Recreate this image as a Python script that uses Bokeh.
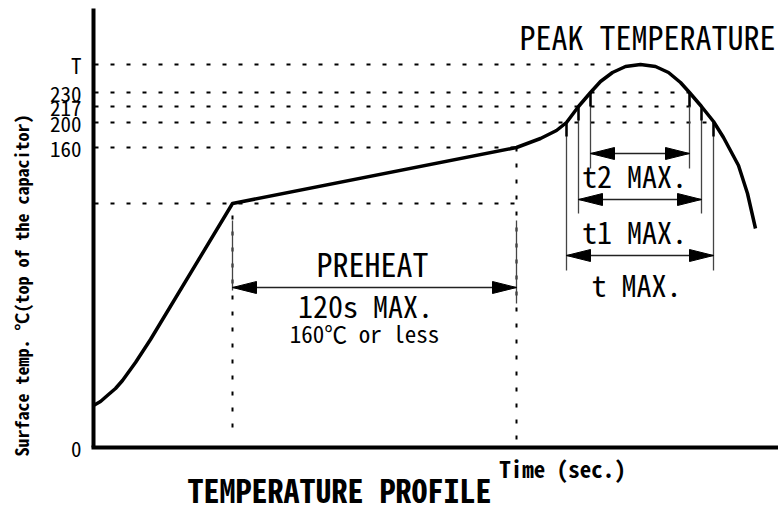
import math
from bokeh.plotting import figure
from bokeh.models import ColumnDataSource, FixedTicker
from bokeh.core.properties import value
from bokeh.embed import file_html
from bokeh.resources import INLINE

FONT = "Noto Sans Mono CJK JP"

# ---- schematic data (time units along x, temperature-scale units along y) ----
curve_t = [0, 7, 15, 22, 29, 42, 57, 139, 423, 447, 463, 473, 485, 497, 507, 519,
           532, 547, 562, 575, 587, 596, 608, 620, 630, 645, 654, 662]
curve_h = [42, 46, 53, 59, 67, 85, 108, 244, 300, 309, 317, 325, 341, 355, 366, 375,
           381, 383, 381, 375, 365, 355, 341, 326, 310, 282, 254, 219]

level_labels = ["T", "230", "217", "200", "160", "0"]
level_h = [383, 355, 341, 325, 300, 0]
guide_end_t = [527, 596, 608, 620, 423]          # guides for T, 230, 217, 200, 160
preheat_start_h = 244
preheat_t = [139, 423]
preheat_arrow_h = 160

win_names = ["t MAX.", "t1 MAX.", "t2 MAX."]
win_start = [473, 485, 497]     # crossings of 200 / 217 / 230 while heating
win_end = [620, 608, 596]       # crossings of 200 / 217 / 230 while cooling
win_level = [325, 341, 355]
win_arrow_h = [192, 248, 294]
win_ext_bottom = [177, 234, 279]

T_MAX, H_MAX = 685, 439

p = figure(width=778, height=511, x_range=(-93, T_MAX), y_range=(-64, H_MAX + 8),
           min_border=0, output_backend="svg", toolbar_location=None)
p.outline_line_color = None
p.grid.visible = False

# axes drawn at the origin of the diagram
for ax in (p.xaxis, p.yaxis):
    ax.fixed_location = 0
    ax.axis_line_width = 4
    ax.axis_line_color = "black"
    ax.major_tick_line_color = None
    ax.minor_tick_line_color = None
    ax.major_tick_out = 0
    ax.minor_tick_out = 0
    ax.major_tick_in = 0
    ax.minor_tick_in = 0
p.xaxis.bounds = (-2, T_MAX)
p.xaxis.ticker = FixedTicker(ticks=[])
p.yaxis.bounds = (0, H_MAX)
p.yaxis.ticker = FixedTicker(ticks=level_h)
p.yaxis.major_label_overrides = {h: s for h, s in zip(level_h, level_labels)}
p.yaxis.major_label_standoff = 12
p.yaxis.major_label_text_font = FONT
p.yaxis.major_label_text_font_size = "21px"
p.yaxis.major_label_text_color = "black"

# dashed guide lines
p.segment(x0=[0] * 5, x1=guide_end_t, y0=level_h[:5], y1=level_h[:5],
          line_color="black", line_width=2, line_dash="4 12", line_dash_offset=15)
p.segment(x0=[0], x1=[preheat_t[1]], y0=[preheat_start_h], y1=[preheat_start_h],
          line_color="black", line_width=2, line_dash="4 12", line_dash_offset=15)
p.segment(x0=preheat_t, x1=preheat_t, y0=[preheat_start_h - 12, level_h[4]], y1=[8, 8],
          line_color="black", line_width=2, line_dash="4 12")

# extension lines
p.segment(x0=preheat_t, x1=preheat_t, y0=[227, 227], y1=[157, 144],
          line_color="#444444", line_width=1.3)
ex_x = win_start + win_end
ex_top = win_level + win_level
ex_bot = win_ext_bottom + win_ext_bottom
p.segment(x0=ex_x, x1=ex_x, y0=ex_top, y1=ex_bot, line_color="#444444", line_width=1.3)
p.segment(x0=ex_x, x1=ex_x, y0=ex_top, y1=[v - 14 for v in ex_top],
          line_color="black", line_width=2.5)

# dimension arrows
L, W = 24, 12
ax0 = [preheat_t[0]] + win_start
ax1 = [preheat_t[1]] + win_end
ay = [preheat_arrow_h] + win_arrow_h
p.segment(x0=ax0, x1=ax1, y0=ay, y1=ay, line_color="#222222", line_width=1.3)
hx, hy = [], []
for a, b, y in zip(ax0, ax1, ay):
    hx.append([a, a + L, a + L]); hy.append([y, y + W / 2, y - W / 2])
    hx.append([b, b - L, b - L]); hy.append([y, y + W / 2, y - W / 2])
p.patches(hx, hy, fill_color="black", line_color="black", line_width=1)

# profile curve
p.line(curve_t, curve_h, line_color="black", line_width=3.5, line_join="round")

# texts
txt = ColumnDataSource(dict(
    x=[554, 279, 272, 541, 541, 543],
    y=[412, 185, 143, 273, 217, 164],
    text=["PEAK TEMPERATURE", "PREHEAT", "120s MAX.", win_names[2], win_names[1], win_names[0]],
    size=["32px", "32px", "30px", "30px", "30px", "30px"],
))
p.text(x="x", y="y", text="text", source=txt, text_font=value(FONT),
       text_font_size="size", text_align="center", text_baseline="middle", text_color="black")
p.text(x=[271], y=[115], text=["160℃ or less"], text_font=value(FONT),
       text_font_size="23px", text_align="center", text_baseline="middle", text_color="black")

bold = ColumnDataSource(dict(
    x=[469, 246], y=[-20, -41], text=["Time (sec.)", "TEMPERATURE PROFILE"],
    size=["23px", "32px"],
))
p.text(x="x", y="y", text="text", source=bold, text_font=value(FONT), text_font_style="bold",
       text_font_size="size", text_align="center", text_baseline="middle", text_color="black")
p.text(x=[-73], y=[162], text=["Surface temp. ℃(top of the capacitor)"], angle=math.pi / 2,
       text_font=value(FONT), text_font_style="bold", text_font_size="18px",
       text_align="center", text_baseline="middle", text_color="black")

open("out.html", "w").write(file_html(p, INLINE))
